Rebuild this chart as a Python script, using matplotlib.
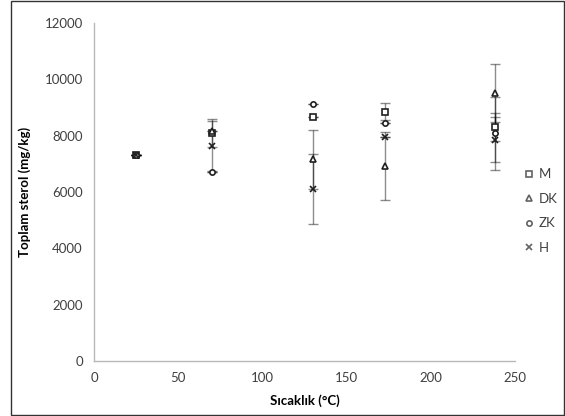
import matplotlib
matplotlib.use("Agg")
import matplotlib.pyplot as plt
from matplotlib.patches import Rectangle
import numpy as np

plt.rcParams['font.family'] = ['Lato', 'DejaVu Sans']

temps = [25, 70, 130, 173, 238]
M = [7300, 8100, 8650, 8850, 8320]
DK = [7300, 8150, 7160, 6920, 9520]
ZK = [7300, 6720, 9120, 8460, 8080]
H = [7300, 7630, 6100, 7960, 7850]
M_err = [0, 500, 0, 300, 500]
DK_err = [0, 0, 1050, 1200, 1030]
ZK_err = [0, 0, 0, 0, 1300]
H_err = [0, 900, 1240, 0, 800]
labels = ["M", "DK", "ZK", "H"]
markers = ["s", "^", "o", "x"]

fig = plt.figure(figsize=(5.65, 4.16), dpi=100)
ax = fig.add_axes([94/565, 55/416, (515-94)/565, (361-23)/416])

series = [M, DK, ZK, H]
errs = [M_err, DK_err, ZK_err, H_err]
for vals, err in zip(series, errs):
    ax.errorbar(temps, vals, yerr=err, fmt='none', ecolor='black', alpha=0.45,
                elinewidth=1.0, capsize=3.5, capthick=1.0)
for vals, mk, lab in zip(series, markers, labels):
    if mk == 'x':
        ax.plot(temps, vals, linestyle='none', marker=mk, markersize=3.8,
                color='#202020', markeredgewidth=1.2, label=lab)
    else:
        ax.plot(temps, vals, linestyle='none', marker=mk, markersize=3.8,
                markerfacecolor='white', markeredgecolor='#202020',
                markeredgewidth=1.2, label=lab)

ax.set_xlim(0, 250)
ax.set_ylim(0, 12000)
ax.set_xticks(range(0, 251, 50))
ax.set_yticks(range(0, 12001, 2000))
for s in ['top', 'right']:
    ax.spines[s].set_visible(False)
for s in ['left', 'bottom']:
    ax.spines[s].set_color('#b8b8b8')
    ax.spines[s].set_linewidth(1.0)
ax.tick_params(length=0, labelsize=9.5, colors='#404040', pad=8)
ax.set_xlabel("Sıcaklık (°C)", fontsize=9.5, fontweight='bold', labelpad=7)
ax.set_ylabel("Toplam sterol (mg/kg)", fontsize=9.5, fontweight='bold', labelpad=10)

leg = fig.legend(loc='upper left', bbox_to_anchor=(520/565, 1 - 163/416),
                 frameon=False, fontsize=9.5, handlelength=0.6, handletextpad=0.4,
                 labelspacing=0.95, borderaxespad=0)
for t in leg.get_texts():
    t.set_color('#404040')
for h in leg.legend_handles:
    h.set_alpha(0.7)

fig.patches.append(Rectangle((11/565, 1/416), 553/565, 414/416, transform=fig.transFigure,
                             fill=False, edgecolor='#333333', linewidth=1.0))
fig.savefig("out.png", dpi=100)
